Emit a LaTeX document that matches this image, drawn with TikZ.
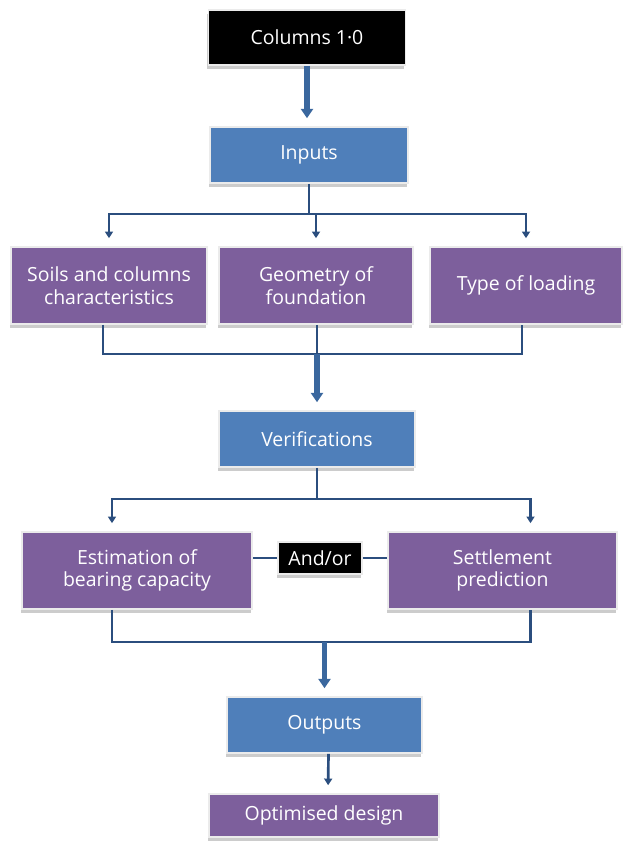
\documentclass[tikz,border=0pt]{standalone}
\usepackage{fontspec}
\setmainfont{Open Sans}
\usetikzlibrary{arrows.meta,shadows}
\definecolor{boxblue}{HTML}{4F7FBA}
\definecolor{boxpurple}{HTML}{7D5F9C}
\definecolor{linkblue}{HTML}{2B4E7E}
\definecolor{fatblue}{HTML}{3A679E}
\begin{document}
\begin{tikzpicture}[x=0.75pt,y=-0.75pt]
            \useasboundingbox (0,0) rectangle (625,844);
            \begin{scope}[every node/.style={rectangle,text=white,align=center,
                    font=\fontsize{14.6}{17}\selectfont,draw=black!8,line width=1.2pt,
                    drop shadow={shadow xshift=-1pt,shadow yshift=-3pt,fill=black!20,opacity=1},
                    inner sep=0pt,minimum height=41.25pt}]
                \node[fill=black,minimum width=147.75pt] (cols) at (307,37.5) {Columns 1·0};
                \node[fill=boxblue,minimum width=148.5pt,minimum height=42pt] (inp) at (309,155) {Inputs};
                \node[fill=boxpurple,minimum width=147pt,minimum height=57.75pt] (soil) at (109,285.5) {Soils and columns\\characteristics};
                \node[fill=boxpurple,minimum width=145.5pt,minimum height=57.75pt] (geom) at (316,285.5) {Geometry of\\foundation};
                \node[fill=boxpurple,minimum width=144pt,minimum height=57.75pt] (load) at (526,285.5) {Type of loading};
                \node[fill=boxblue,minimum width=147pt,minimum height=42pt] (verif) at (317,439) {Verifications};
                \node[fill=boxpurple,minimum width=172.5pt,minimum height=57.75pt] (est) at (137,570.5) {Estimation of\\bearing capacity};
                \node[fill=black,minimum width=63pt,minimum height=24pt] (andor) at (320,558) {And/or};
                \node[fill=boxpurple,minimum width=171.75pt,minimum height=57.75pt] (settle) at (502.5,570.5) {Settlement\\prediction};
                \node[fill=boxblue,minimum width=146.25pt,minimum height=42pt] (outp) at (324.5,725) {Outputs};
                \node[fill=boxpurple,minimum width=172.5pt,minimum height=32.25pt] (opt) at (324,815.5) {Optimised design};
            \end{scope}
            \coordinate (bus1) at (309,214);
            \coordinate (bus2) at (317,354);
            \coordinate (bus3) at (317,499);
            \coordinate (bus4) at (324.5,642);
            \begin{scope}[every path/.style={draw=linkblue,line width=2pt}]
                \path (inp) -- (bus1);
                \path[-{Triangle[width=6pt,length=5pt]},shorten >=6pt] (bus1) -| (soil);
                \path[-{Triangle[width=6pt,length=5pt]},shorten >=6pt] (bus1) -| (geom);
                \path[-{Triangle[width=6pt,length=5pt]},shorten >=6pt] (bus1) -| (load);
                \path ([xshift=-4.5pt]soil.south) |- (bus2) -| ([xshift=-3pt]load.south);
                \path (bus2 |- geom.south) -- (bus2);
                \path (verif) -- (bus3);
                \path[-{Triangle[width=6pt,length=5pt]},shorten >=6pt] (bus3) -| ([xshift=-18.75pt]est.north);
                \path[-{Triangle[width=6pt,length=5pt]},shorten >=6pt] (bus3) -| ([xshift=21pt]settle.north);
                \path (andor.west) -- (andor.west -| est.east);
                \path (andor.east) -- (andor.east -| settle.west);
                \path ([xshift=-18.75pt]est.south) |- (bus4) -| ([xshift=21pt]settle.south);
                \path[-{Triangle[width=6pt,length=5pt]},shorten >=6pt] ([xshift=3pt]outp.south) -- ([xshift=3pt]opt.north);
            \end{scope}
            \begin{scope}[every path/.style={draw=fatblue,line width=4pt,-{Triangle[width=9pt,length=7pt]},shorten >=6pt}]
                \path (cols) -- (cols |- inp.north);
                \path (bus2) -- (bus2 |- verif.north);
                \path (bus4) -- (bus4 |- outp.north);
            \end{scope}
        \end{tikzpicture}
\end{document}
